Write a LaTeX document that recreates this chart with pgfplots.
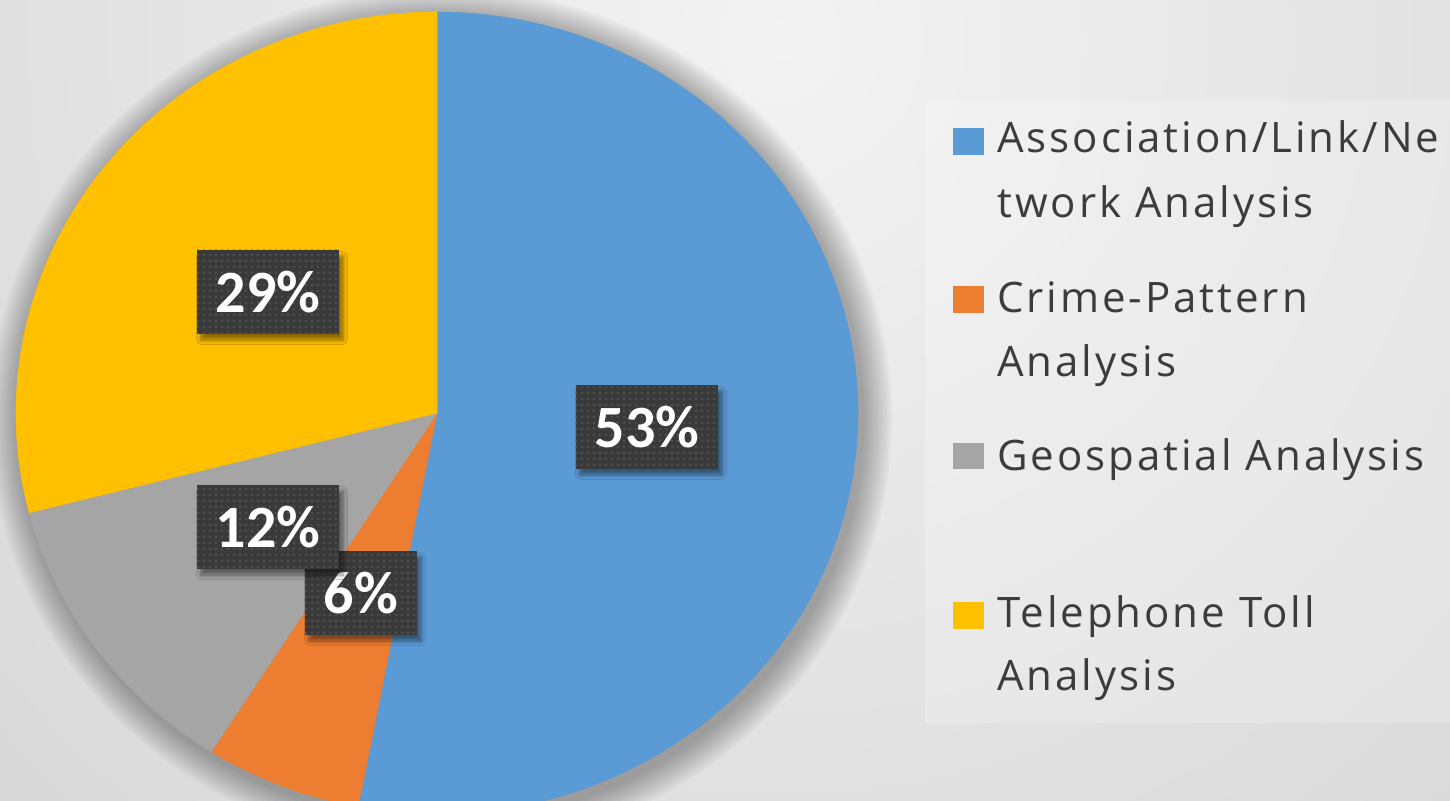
\documentclass[border=0pt]{standalone}
\usepackage{pgfplots}
\pgfplotsset{compat=1.18}
\usepackage{pgfplotstable}
\usepackage{fontspec}
\setmainfont{Open Sans}
\newfontfamily\legfont[LetterSpace=7]{Open Sans}
\newfontfamily\labelfont{Carlito}
\usetikzlibrary{patterns, shadows.blur}

\definecolor{pieblue}{HTML}{5B9BD5}
\definecolor{pieorange}{HTML}{ED7D31}
\definecolor{piegray}{HTML}{A5A5A5}
\definecolor{pieyellow}{HTML}{FFC000}
\definecolor{boxgray}{HTML}{3A3A3A}
\definecolor{dotgray}{HTML}{5C5C5C}
\definecolor{legtext}{HTML}{3C3C3C}
\definecolor{bgbase}{HTML}{C2C2C2}
\definecolor{bginner}{HTML}{F3F3F3}

% share (%) and label centre in pixel units
\pgfplotstableread{
share lx ly
53 647 427
6 361 593
12 268 527
29 268 292
}\piedata

\tikzset{pctbox/.style={fill=boxgray, text=white,
  font=\labelfont\bfseries\fontsize{30}{32}\selectfont,
  inner xsep=9.5pt, inner ysep=0pt, minimum height=42pt,
  postaction={pattern=dots, pattern color=dotgray},
  blur shadow={shadow xshift=2pt, shadow yshift=-3pt, shadow blur steps=6, shadow opacity=45}}}

\begin{document}
\begin{tikzpicture}
\begin{axis}[
  width=725pt, height=400.5pt, scale only axis,
  xmin=0, xmax=1450, ymin=0, ymax=801, y dir=reverse,
  hide axis, clip=true
]
% background
\fill[bgbase] (0,0) rectangle (1450,801);
\shade[inner color=bginner, outer color=bgbase] (780,40) circle[radius=2000];
% soft shadow round the pie
\pgfplotsinvokeforeach{1,...,12}{
  \fill[black, opacity=0.028] (441,419) ellipse[x radius=421+2.5*#1, y radius=401+2.5*#1];
}
\def\cum{0}
\pgfplotsforeachungrouped \i in {0,1,2,3}{%
  \pgfplotstablegetelem{\i}{share}\of\piedata \let\v\pgfplotsretval
  \pgfmathsetmacro\ta{90-3.6*\cum}
  \pgfmathsetmacro\cum{\cum+\v}
  \pgfmathsetmacro\tb{90-3.6*\cum}
  \edef\c{\ifcase\i pieblue\or pieorange\or piegray\else pieyellow\fi}
  \edef\cmd{\noexpand\addplot[fill=\c, draw=\c, line width=0.3pt,
    domain=\tb:\ta, samples=90]
    ({437+421*cos(x)},{413-401*sin(x)}) -- (437,413) -- cycle;}
  \cmd
}
\pgfplotsforeachungrouped \i in {0,1,2,3}{%
  \pgfplotstablegetelem{\i}{share}\of\piedata \let\v\pgfplotsretval
  \pgfplotstablegetelem{\i}{lx}\of\piedata \let\lx\pgfplotsretval
  \pgfplotstablegetelem{\i}{ly}\of\piedata \let\ly\pgfplotsretval
  \edef\cmd{\noexpand\node[pctbox] at (axis cs:\lx,\ly) {\v\noexpand\%};}
  \cmd
}
% legend
\fill[white, opacity=0.22] (925,100) rectangle (1450,723);
\fill[pieblue] (953,128) rectangle (984,155);
\fill[pieorange] (953,286) rectangle (984,313);
\fill[piegray] (953,443) rectangle (984,469);
\fill[pieyellow] (953,602) rectangle (984,629);
\begin{scope}[every node/.style={anchor=base west, inner sep=0pt, text=legtext,
  font=\legfont\fontsize{21}{25}\selectfont}]
\node at (997,153) {Association/Link/Ne};
\node at (997,218) {twork Analysis};
\node at (997,313) {Crime-Pattern};
\node at (997,377) {Analysis};
\node at (997,471) {Geospatial Analysis};
\node at (997,627) {Telephone Toll};
\node at (997,690) {Analysis};
\end{scope}
\end{axis}
\pgfresetboundingbox
\path (current axis.south west) rectangle (current axis.north east);
\end{tikzpicture}
\end{document}
